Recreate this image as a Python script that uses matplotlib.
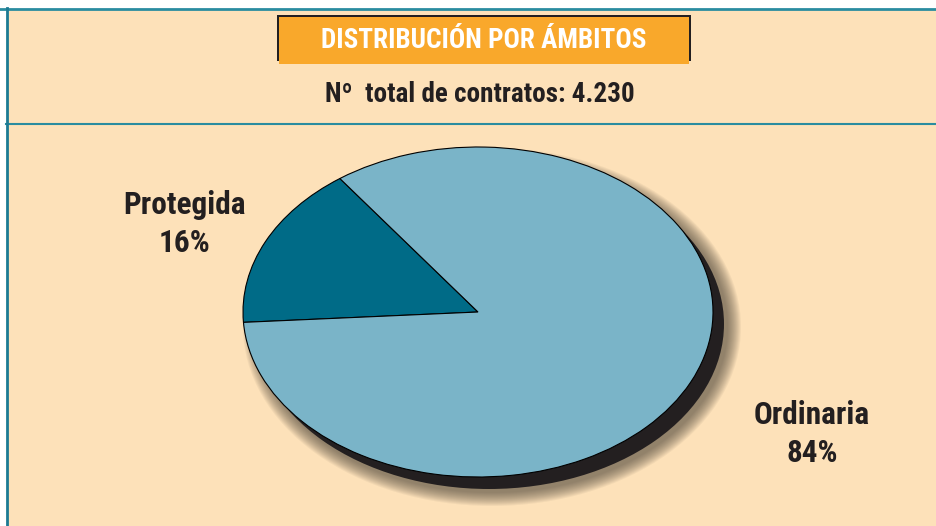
import matplotlib.pyplot as plt
from matplotlib.patches import Rectangle, Ellipse
from matplotlib.lines import Line2D

# data
labels = ['Protegida', 'Ordinaria']
shares = [16, 84]
colors = ['#006B87', '#7AB4C8']
title = 'DISTRIBUCIÓN POR ÁMBITOS'
subtitle = 'Nº  total de contratos: 4.230'

W, H = 937, 526
BG = '#FDE1B9'
TEAL = '#2A8CA0'
FONT = ['Roboto Condensed', 'Barlow Semi Condensed', 'DejaVu Sans']


def fx(x):
    return x / W


def fy(y):
    return 1 - y / H


fig = plt.figure(figsize=(W / 100, H / 100), dpi=100)
fig.patch.set_facecolor('white')

# peach panel and frame lines
fig.add_artist(Rectangle((fx(7), 0), 1, fy(9), transform=fig.transFigure,
                         facecolor=BG, edgecolor='none', zorder=-10))
fig.add_artist(Line2D([fx(0), 1], [fy(8.5), fy(8.5)], transform=fig.transFigure,
                      color=TEAL, lw=2, zorder=-5))
fig.add_artist(Line2D([fx(6), 1], [fy(124), fy(124)], transform=fig.transFigure,
                      color=TEAL, lw=1.5, zorder=-5))
fig.add_artist(Line2D([fx(7.5), fx(7.5)], [0, fy(8)], transform=fig.transFigure,
                      color='#1C7A93', lw=2, zorder=-5))

# title box
fig.add_artist(Rectangle((fx(277), fy(61)), fx(691 - 277), (61 - 15) / H,
                         transform=fig.transFigure, facecolor='#231F20',
                         edgecolor='none', zorder=-4))
fig.add_artist(Rectangle((fx(279), fy(64)), fx(689 - 279), (64 - 17) / H,
                         transform=fig.transFigure, facecolor='#F9A82B',
                         edgecolor='none', zorder=-3))
fig.text(fx(484), fy(40), title, ha='center', va='center', color='white',
         fontsize=19.5, fontweight='bold', family=FONT)
fig.text(fx(480), fy(94), subtitle, ha='center', va='center', color='#231F20',
         fontsize=19.5, fontweight='bold', family=FONT)

# pie drawn as an ellipse
cx, cy, rx, ry = 478, 312, 235, 165
ax = fig.add_axes([fx(cx - rx), fy(cy + ry), 2 * rx / W, 2 * ry / H])

# soft shadow
ox, oy = 11 / rx, -12 / ry
for k in range(14, 0, -1):
    ax.add_patch(Ellipse((ox + 3 / rx, oy - 3 / ry), 2 + 2 * k / rx, 2 + 2 * k / ry,
                         facecolor='#4a4238', edgecolor='none', alpha=0.06,
                         clip_on=False, zorder=0))
ax.add_patch(Ellipse((ox, oy), 2, 2, facecolor='#231F20', edgecolor='none',
                     clip_on=False, zorder=0.5))

wedges, _ = ax.pie(shares, colors=colors, startangle=126, counterclock=True,
                   wedgeprops=dict(edgecolor='black', linewidth=0.8))
for w in wedges:
    w.set_zorder(1)
    w.set_clip_on(False)
ax.set_aspect('auto')
ax.set_xlim(-1, 1)
ax.set_ylim(-1, 1)
ax.axis('off')

# labels
fig.text(fx(185), fy(224), f'{labels[0]}\n{shares[0]}%', ha='center', va='center',
         color='#231F20', fontsize=22.5, fontweight='bold', family=FONT,
         linespacing=1.35)
fig.text(fx(812), fy(434), f'{labels[1]}\n{shares[1]}%', ha='center', va='center',
         color='#231F20', fontsize=22.5, fontweight='bold', family=FONT,
         linespacing=1.35)

fig.savefig('out.png', dpi=100, facecolor=fig.get_facecolor())
